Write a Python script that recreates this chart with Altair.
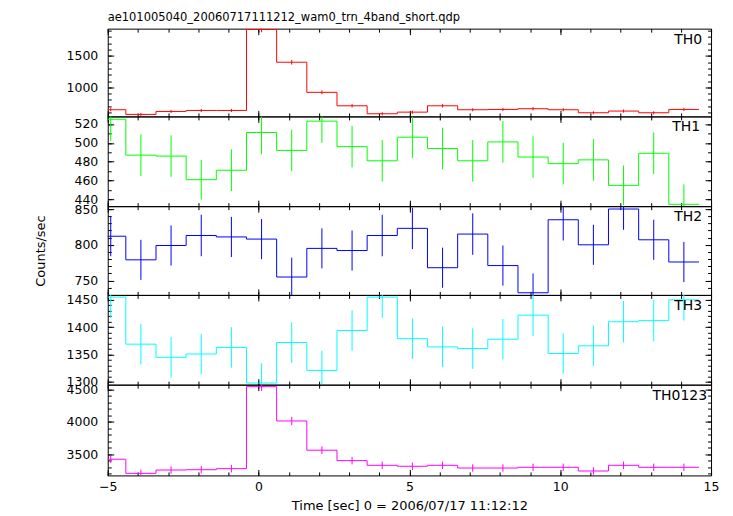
import altair as alt
import pandas as pd

FONT = "DejaVu Sans"

chart_title = "ae101005040_20060717111212_wam0_trn_4band_short.qdp"
x_title = "Time [sec] 0 = 2006/07/17 11:12:12"
y_title = "Counts/sec"

bin_centers = [-4.9, -3.9, -2.9, -1.9, -0.9, 0.1, 1.1, 2.1, 3.1, 4.1,
               5.1, 6.1, 7.1, 8.1, 9.1, 10.1, 11.1, 12.1, 13.1, 14.1]
bin_half_width = 0.5

th0 = [644, 570, 617, 633, 633, 1921, 1400, 921, 707, 580,
       606, 707, 644, 649, 660, 644, 596, 623, 596, 649]
th0_err = [25, 24, 25, 25, 25, 44, 37, 30, 27, 24,
           25, 27, 25, 25, 26, 25, 24, 25, 24, 25]

th1 = [525, 487, 486, 461, 471, 511, 492, 523, 496, 481,
       506, 494, 481, 501, 485, 478, 482, 455, 489, 435]
th1_err = [23, 22, 22, 21, 22, 23, 22, 23, 22, 22,
           22, 22, 22, 22, 22, 22, 22, 21, 22, 21]

th2 = [812, 779, 799, 813, 811, 808, 755, 795, 792, 813,
       823, 768, 815, 771, 733, 835, 800, 850, 807, 776]
th2_err = [28, 28, 28, 29, 28, 28, 27, 28, 28, 29,
           29, 28, 29, 28, 27, 29, 28, 29, 28, 28]

th3 = [1455, 1369, 1345, 1351, 1363, 1298, 1372, 1321, 1394, 1455,
       1379, 1364, 1361, 1378, 1422, 1352, 1366, 1410, 1412, 1450]
th3_err = [38, 37, 37, 37, 37, 36, 37, 36, 37, 38,
           37, 37, 37, 37, 38, 37, 37, 38, 38, 38]

th0123 = [3425, 3207, 3258, 3263, 3279, 4544, 4015, 3564, 3403, 3331,
          3316, 3331, 3289, 3289, 3300, 3300, 3243, 3331, 3300, 3300]
th0123_err = [59, 57, 57, 57, 57, 67, 63, 60, 58, 58,
              58, 58, 57, 57, 57, 57, 57, 58, 57, 57]

x_domain = [-5, 15]
x_major = [-5, 0, 5, 10, 15]
x_minor = list(range(-5, 16))

panels = [
    dict(name="TH0", color="#ff0000", vals=th0, errs=th0_err, domain=[538, 1934],
         major=[1000, 1500], minor=list(range(600, 2000, 100)), h=88, rpad=9),
    dict(name="TH1", color="#00ff00", vals=th1, errs=th1_err, domain=[433, 528],
         major=[440, 460, 480, 500, 520], minor=list(range(440, 530, 10)), h=90, rpad=11),
    dict(name="TH2", color="#0000ff", vals=th2, errs=th2_err, domain=[730, 854],
         major=[750, 800, 850], minor=list(range(740, 860, 10)), h=89, rpad=9),
    dict(name="TH3", color="#00ffff", vals=th3, errs=th3_err, domain=[1295, 1459],
         major=[1300, 1350, 1400, 1450], minor=list(range(1300, 1460, 10)), h=90, rpad=9),
    dict(name="TH0123", color="#ff00ff", vals=th0123, errs=th0123_err, domain=[3175, 4575],
         major=[3500, 4000, 4500], minor=list(range(3200, 4600, 100)), h=91, rpad=4),
]

W = 605
MAJ = 6
MIN = 3.5


def ax(orient, values, size, labels=False, **kw):
    return alt.Axis(orient=orient, values=values, tickSize=size, offset=-size,
                    domain=False, grid=False, labels=labels, tickColor="black",
                    tickWidth=1, format="d", **kw)


def make_panel(p, idx, n):
    H = p["h"]
    is_bottom = idx == n - 1
    is_mid = idx == 2
    df = pd.DataFrame({
        "t": bin_centers,
        "rate": p["vals"],
        "lo": [v - e for v, e in zip(p["vals"], p["errs"])],
        "hi": [v + e for v, e in zip(p["vals"], p["errs"])],
    })
    edges = pd.DataFrame({
        "edge": [c - bin_half_width for c in bin_centers] + [bin_centers[-1] + bin_half_width],
        "rate": p["vals"] + [p["vals"][-1]],
    })
    xs = alt.Scale(domain=x_domain, nice=False, zero=False)
    ys = alt.Scale(domain=p["domain"], nice=False, zero=False)

    bottom_kw = {}
    if is_bottom:
        bottom_kw = dict(labelPadding=5, labelFlush=False, titlePadding=7)
    x_bottom_major = ax("bottom", x_major, MAJ, labels=is_bottom,
                        title=x_title if is_bottom else None, **bottom_kw)
    left_kw = dict(labelPadding=10, labelFlush=False, labelOverlap=False)
    if is_mid:
        left_kw.update(titleAngle=270, titleAlign="center", titleBaseline="middle",
                       titleX=-73, titleY=H / 2)
    y_left_major = ax("left", p["major"], MAJ, labels=True,
                      title=y_title if is_mid else None, **left_kw)

    line = alt.Chart(edges).mark_line(
        interpolate="step-after", clip=True, color=p["color"], strokeWidth=1
    ).encode(
        x=alt.X("edge:Q", scale=xs, axis=x_bottom_major),
        y=alt.Y("rate:Q", scale=ys, axis=y_left_major),
    )
    rule = alt.Chart(df).mark_rule(clip=True, color=p["color"], strokeWidth=1).encode(
        x=alt.X("t:Q", scale=xs, axis=ax("top", x_major, MAJ, title=None)),
        y=alt.Y("lo:Q", scale=ys, axis=ax("right", p["major"], MAJ, title=None)),
        y2="hi:Q",
    )
    minor_a = alt.Chart(df).mark_point(opacity=0).encode(
        x=alt.X("t:Q", scale=xs, axis=ax("bottom", x_minor, MIN, title=None)),
        y=alt.Y("rate:Q", scale=ys, axis=ax("left", p["minor"], MIN, title=None)),
    )
    minor_b = alt.Chart(df).mark_point(opacity=0).encode(
        x=alt.X("t:Q", scale=xs, axis=ax("top", x_minor, MIN, title=None)),
        y=alt.Y("rate:Q", scale=ys, axis=ax("right", p["minor"], MIN, title=None)),
    )
    label = alt.Chart(pd.DataFrame({"name": [p["name"]]})).mark_text(
        align="right", baseline="top", font=FONT, fontSize=14, color="black"
    ).encode(text="name:N", x=alt.value(W - p["rpad"]), y=alt.value(4))

    layer = alt.layer(minor_a, minor_b, line, rule, label).resolve_axis(
        x="independent", y="independent"
    ).properties(width=W, height=H)
    if idx == 0:
        layer = layer.properties(title=alt.Title(
            chart_title, anchor="start", frame="group", offset=-5.5, baseline="alphabetic",
            font=FONT, fontSize=11.5, fontWeight="normal", color="black"))
    return layer


charts = [make_panel(p, i, len(panels)) for i, p in enumerate(panels)]

chart = alt.vconcat(*charts, spacing=0, bounds="flush").properties(
    padding={"left": 26, "top": 2, "right": 5, "bottom": 5}
).configure_view(stroke="black", strokeWidth=1).configure_axis(
    labelFont=FONT, labelFontSize=12.5, labelColor="black",
    titleFont=FONT, titleFontSize=13, titleFontWeight="normal", titleColor="black",
)

chart.save("out.html", embed_options={"renderer": "svg", "actions": False})
